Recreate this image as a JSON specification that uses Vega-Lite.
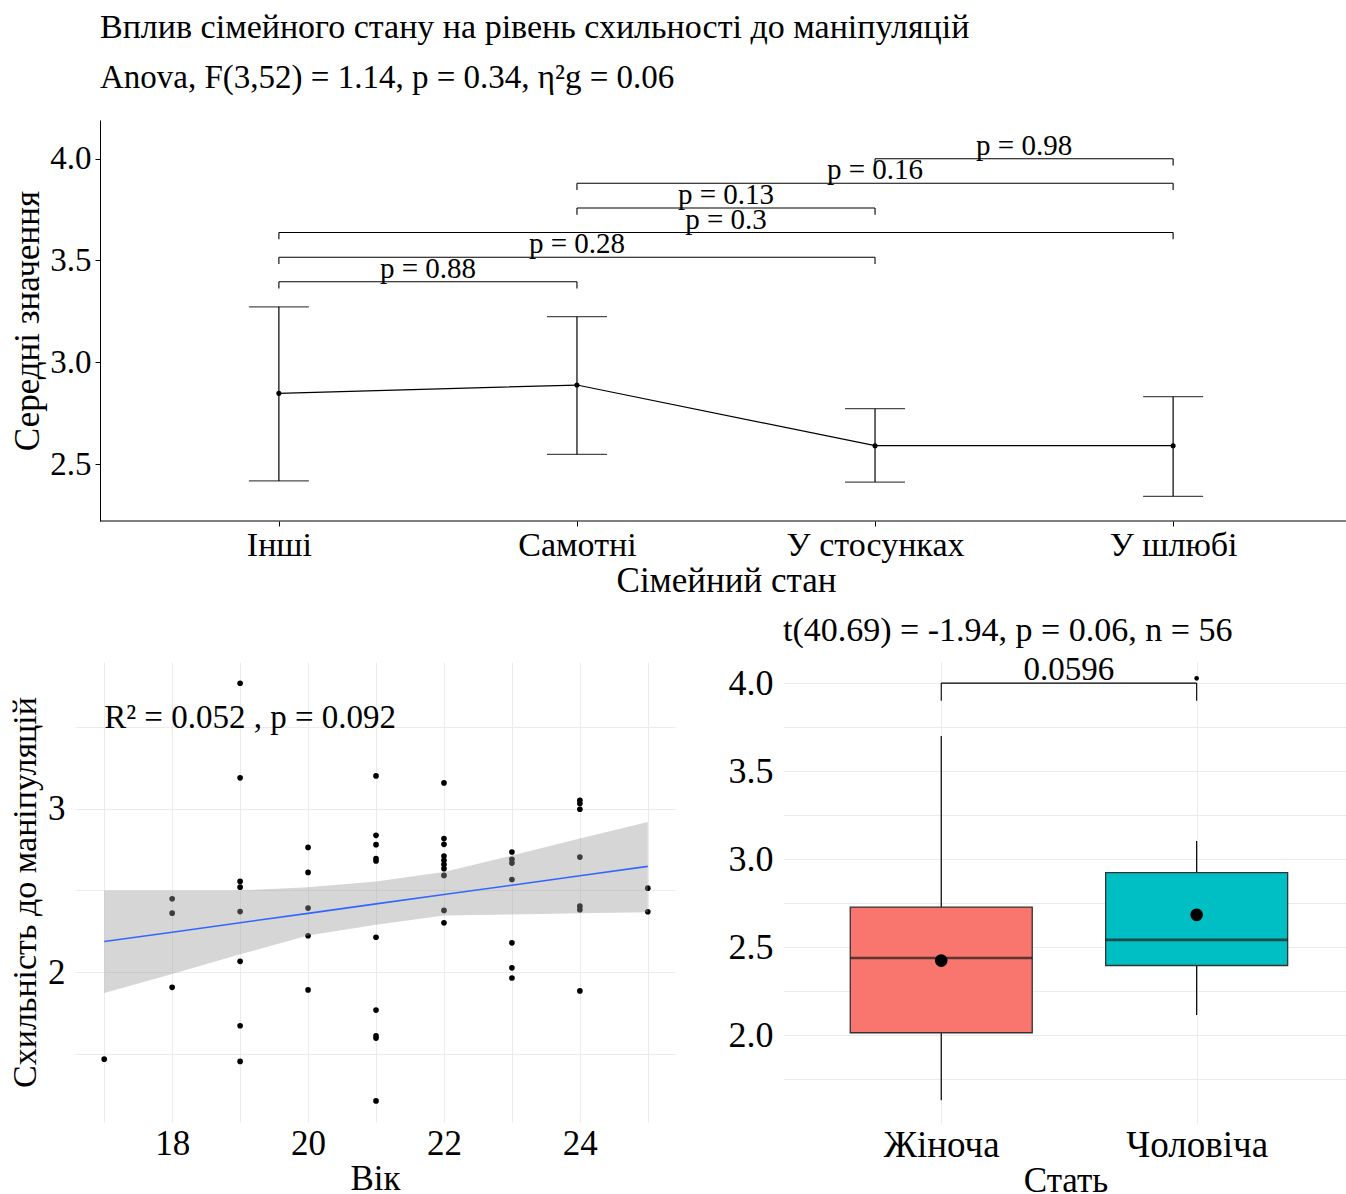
{
  "$schema": "https://vega.github.io/schema/vega-lite/v6.json",
  "background": "white",
  "padding": {"left": 8, "top": 11, "right": 0, "bottom": 0},
  "spacing": 16,
  "config": {
    "font": "Liberation Serif",
    "view": {"stroke": null},
    "axis": {"labelFont": "Liberation Serif", "titleFont": "Liberation Serif", "labelColor": "#000000", "titleColor": "#000000", "titleFontWeight": "normal", "labelFontSize": 34, "titleFontSize": 35},
    "title": {"font": "Liberation Serif", "fontWeight": "normal", "color": "#000000"}
  },
  "vconcat": [
    {
      "width": 1271,
      "height": 401,
      "title": {"text": "Вплив сімейного стану на рівень схильності до маніпуляцій", "subtitle": "Anova, F(3,52) = 1.14, p = 0.34, η²g = 0.06", "anchor": "start", "frame": "group", "dx": 25, "fontSize": 34, "subtitleFontSize": 33, "subtitleFont": "Liberation Serif", "subtitleColor": "#000000", "subtitlePadding": 17, "offset": 25},
      "layer": [
        {
          "data": {"name": "means"},
          "mark": {"type": "rule", "color": "#000000", "strokeWidth": 1.2},
          "encoding": {
            "x": {"field": "i", "type": "quantitative", "scale": {"domain": [0.316, 4.58], "nice": false, "zero": false},
                  "axis": {"values": [1, 2, 3, 4], "labelExpr": "['', 'Інші', 'Самотні', 'У стосунках', 'У шлюбі'][datum.value]", "title": "Сімейний стан", "titleX": 651, "grid": false, "domain": false, "tickColor": "#000000", "tickSize": 5, "labelPadding": 2, "titlePadding": 1, "labelFontSize": 34, "titleFontSize": 35}},
            "y": {"field": "lo", "type": "quantitative", "scale": {"domain": [2.22, 4.19], "nice": false, "zero": false},
                  "axis": {"values": [2.5, 3, 3.5, 4], "format": ".1f", "title": "Середні значення", "offset": -25, "grid": false, "domainColor": "#000000", "tickColor": "#000000", "tickSize": 5, "labelPadding": 4, "titlePadding": 4, "labelFontSize": 33, "titleFontSize": 35}},
            "y2": {"field": "hi"}
          }
        },
        {
          "data": {"values": [{"axisline": "x"}]},
          "mark": {"type": "rule", "color": "#000000", "strokeWidth": 1.2},
          "encoding": {"x": {"datum": 0.4, "type": "quantitative"}, "x2": {"datum": 4.58}, "y": {"datum": 2.22, "type": "quantitative"}}
        },
        {
          "data": {"name": "means"},
          "mark": {"type": "tick", "orient": "horizontal", "size": 60, "thickness": 1.3, "color": "#000000"},
          "encoding": {"x": {"field": "i", "type": "quantitative"}, "y": {"field": "lo", "type": "quantitative"}}
        },
        {
          "data": {"name": "means"},
          "mark": {"type": "tick", "orient": "horizontal", "size": 60, "thickness": 1.3, "color": "#000000"},
          "encoding": {"x": {"field": "i", "type": "quantitative"}, "y": {"field": "hi", "type": "quantitative"}}
        },
        {
          "data": {"name": "means"},
          "mark": {"type": "line", "color": "#000000", "strokeWidth": 1.2},
          "encoding": {"x": {"field": "i", "type": "quantitative"}, "y": {"field": "mean", "type": "quantitative"}}
        },
        {
          "data": {"name": "means"},
          "mark": {"type": "point", "filled": true, "color": "#000000", "size": 26, "opacity": 1},
          "encoding": {"x": {"field": "i", "type": "quantitative"}, "y": {"field": "mean", "type": "quantitative"}}
        },
        {
          "data": {"name": "brackets"},
          "mark": {"type": "rule", "color": "#000000", "strokeWidth": 1.1},
          "encoding": {"x": {"field": "a", "type": "quantitative"}, "x2": {"field": "b"}, "y": {"field": "y", "type": "quantitative"}}
        },
        {
          "data": {"name": "brackets"},
          "transform": [{"fold": ["a", "b"], "as": ["end", "xpos"]}],
          "mark": {"type": "rule", "color": "#000000", "strokeWidth": 1.1},
          "encoding": {"x": {"field": "xpos", "type": "quantitative"}, "y": {"field": "y", "type": "quantitative"}, "y2": {"field": "tip"}}
        },
        {
          "data": {"name": "brackets"},
          "mark": {"type": "text", "fontSize": 29, "baseline": "alphabetic", "align": "center", "dy": -4, "color": "#000000"},
          "encoding": {"x": {"field": "mid", "type": "quantitative"}, "y": {"field": "y", "type": "quantitative"}, "text": {"field": "label"}}
        }
      ]
    },
    {
      "hconcat": [
        {
          "width": 600,
          "height": 460,
          "layer": [
            {
              "data": {"name": "scatter"},
              "mark": {"type": "point", "filled": true, "color": "#000000", "size": 32, "opacity": 1},
              "encoding": {
                "x": {"field": "age", "type": "quantitative", "scale": {"domain": [16.57, 25.4], "nice": false, "zero": false},
                      "axis": {"values": [17, 18, 19, 20, 21, 22, 23, 24, 25], "labelExpr": "datum.value % 2 == 0 ? format(datum.value, 'd') : ''", "title": "Вік", "domain": false, "ticks": false, "gridColor": "#EBEBEB", "gridWidth": 1, "labelPadding": 4, "titlePadding": 0, "labelFontSize": 35, "titleFontSize": 35}},
                "y": {"field": "score", "type": "quantitative", "scale": {"domain": [1.085, 3.896], "nice": false, "zero": false},
                      "axis": {"values": [1.5, 2, 2.5, 3, 3.5], "labelExpr": "datum.value % 1 == 0 ? format(datum.value, 'd') : ''", "title": "Схильність до маніпуляцій", "domain": false, "ticks": false, "gridColor": "#EBEBEB", "gridWidth": 1, "labelPadding": 10, "titlePadding": 5, "labelFontSize": 35, "titleFontSize": 34}}
              }
            },
            {
              "data": {"name": "fit"},
              "mark": {"type": "area", "color": "#999999", "opacity": 0.4},
              "encoding": {"x": {"field": "age", "type": "quantitative"}, "y": {"field": "lo", "type": "quantitative"}, "y2": {"field": "hi"}}
            },
            {
              "data": {"name": "fit"},
              "mark": {"type": "line", "color": "#3366FF", "strokeWidth": 1.6},
              "encoding": {"x": {"field": "age", "type": "quantitative"}, "y": {"field": "fit", "type": "quantitative"}}
            },
            {
              "data": {"values": [{"age": 17, "score": 3.49, "label": "R² = 0.052 , p = 0.092"}]},
              "mark": {"type": "text", "fontSize": 33, "align": "left", "baseline": "alphabetic", "color": "#000000"},
              "encoding": {"x": {"field": "age", "type": "quantitative"}, "y": {"field": "score", "type": "quantitative"}, "text": {"field": "label"}}
            }
          ]
        },
        {
          "width": 565,
          "height": 461,
          "title": {"text": "t(40.69) = -1.94, p = 0.06, n = 56", "anchor": "start", "frame": "group", "fontSize": 34, "offset": 6},
          "layer": [
            {
              "data": {"name": "box"},
              "mark": {"type": "rule", "color": "#000000", "strokeWidth": 1.2},
              "encoding": {
                "x": {"field": "pos", "type": "quantitative", "scale": {"domain": [0.4, 2.573], "nice": false, "zero": false},
                      "axis": {"values": [1, 2], "labelExpr": "['', 'Жіноча', 'Чоловіча'][datum.value]", "title": "Стать", "domain": false, "ticks": false, "gridColor": "#EBEBEB", "labelPadding": 4, "titlePadding": 0, "labelFontSize": 37, "titleFontSize": 35}},
                "y": {"field": "lower", "type": "quantitative", "scale": {"domain": [1.5, 4.12], "nice": false, "zero": false},
                      "axis": {"values": [1.75, 2, 2.25, 2.5, 2.75, 3, 3.25, 3.5, 3.75, 4], "labelExpr": "datum.value * 2 % 1 == 0 ? format(datum.value, '.1f') : ''", "title": null, "domain": false, "ticks": false, "gridColor": "#EBEBEB", "labelPadding": 10, "labelFontSize": 36}},
                "y2": {"field": "upper"}
              }
            },
            {
              "data": {"name": "box"},
              "mark": {"type": "bar", "size": 182, "stroke": "#333333", "strokeWidth": 1.3},
              "encoding": {
                "x": {"field": "pos", "type": "quantitative"},
                "y": {"field": "q1", "type": "quantitative"},
                "y2": {"field": "q3"},
                "color": {"field": "sex", "type": "nominal", "scale": {"domain": ["Жіноча", "Чоловіча"], "range": ["#F8766D", "#00BFC4"]}, "legend": null}
              }
            },
            {
              "data": {"name": "box"},
              "mark": {"type": "tick", "orient": "horizontal", "size": 182, "thickness": 2.6, "color": "#1a1a1a"},
              "encoding": {"x": {"field": "pos", "type": "quantitative"}, "y": {"field": "median", "type": "quantitative"}}
            },
            {
              "data": {"name": "box"},
              "mark": {"type": "point", "filled": true, "color": "#000000", "size": 160, "opacity": 1},
              "encoding": {"x": {"field": "pos", "type": "quantitative"}, "y": {"field": "mean", "type": "quantitative"}}
            },
            {
              "data": {"values": [{"pos": 2, "score": 4.027}]},
              "mark": {"type": "point", "filled": true, "color": "#000000", "size": 22, "opacity": 1},
              "encoding": {"x": {"field": "pos", "type": "quantitative"}, "y": {"field": "score", "type": "quantitative"}}
            },
            {
              "data": {"values": [{"a": 1, "b": 2, "y": 4.0, "tip": 3.9, "mid": 1.5, "label": "0.0596"}]},
              "layer": [
                {"mark": {"type": "rule", "color": "#000000", "strokeWidth": 1.1},
                 "encoding": {"x": {"field": "a", "type": "quantitative"}, "x2": {"field": "b"}, "y": {"field": "y", "type": "quantitative"}}},
                {"transform": [{"fold": ["a", "b"], "as": ["end", "xpos"]}],
                 "mark": {"type": "rule", "color": "#000000", "strokeWidth": 1.1},
                 "encoding": {"x": {"field": "xpos", "type": "quantitative"}, "y": {"field": "y", "type": "quantitative"}, "y2": {"field": "tip"}}},
                {"mark": {"type": "text", "fontSize": 33, "align": "center", "baseline": "alphabetic", "dy": -3, "color": "#000000"},
                 "encoding": {"x": {"field": "mid", "type": "quantitative"}, "y": {"field": "y", "type": "quantitative"}, "text": {"field": "label"}}}
              ]
            }
          ]
        }
      ],
      "spacing": 53
    }
  ],
  "datasets": {
    "means": [
      {"group": "Інші", "i": 1, "mean": 2.847, "lo": 2.417, "hi": 3.272},
      {"group": "Самотні", "i": 2, "mean": 2.888, "lo": 2.547, "hi": 3.224},
      {"group": "У стосунках", "i": 3, "mean": 2.59, "lo": 2.411, "hi": 2.772},
      {"group": "У шлюбі", "i": 4, "mean": 2.59, "lo": 2.341, "hi": 2.831}
    ],
    "brackets": [
      {"a": 1, "b": 2, "y": 3.395, "tip": 3.362, "mid": 1.5, "label": "p = 0.88"},
      {"a": 1, "b": 3, "y": 3.516, "tip": 3.483, "mid": 2, "label": "p = 0.28"},
      {"a": 1, "b": 4, "y": 3.637, "tip": 3.604, "mid": 2.5, "label": "p = 0.3"},
      {"a": 2, "b": 3, "y": 3.758, "tip": 3.725, "mid": 2.5, "label": "p = 0.13"},
      {"a": 2, "b": 4, "y": 3.879, "tip": 3.846, "mid": 3, "label": "p = 0.16"},
      {"a": 3, "b": 4, "y": 4.0, "tip": 3.967, "mid": 3.5, "label": "p = 0.98"}
    ],
    "scatter": [
      {"age": 17, "score": 1.469},
      {"age": 18, "score": 2.449}, {"age": 18, "score": 2.361}, {"age": 18, "score": 1.908},
      {"age": 19, "score": 3.766}, {"age": 19, "score": 3.188}, {"age": 19, "score": 2.555}, {"age": 19, "score": 2.52}, {"age": 19, "score": 2.371}, {"age": 19, "score": 2.067}, {"age": 19, "score": 1.673}, {"age": 19, "score": 1.455},
      {"age": 20, "score": 2.763}, {"age": 20, "score": 2.61}, {"age": 20, "score": 2.392}, {"age": 20, "score": 2.223}, {"age": 20, "score": 1.892},
      {"age": 21, "score": 3.2}, {"age": 21, "score": 2.837}, {"age": 21, "score": 2.78}, {"age": 21, "score": 2.694}, {"age": 21, "score": 2.68}, {"age": 21, "score": 2.214}, {"age": 21, "score": 1.769}, {"age": 21, "score": 1.612}, {"age": 21, "score": 1.598}, {"age": 21, "score": 1.214},
      {"age": 22, "score": 3.157}, {"age": 22, "score": 2.817}, {"age": 22, "score": 2.782}, {"age": 22, "score": 2.71}, {"age": 22, "score": 2.684}, {"age": 22, "score": 2.659}, {"age": 22, "score": 2.633}, {"age": 22, "score": 2.592}, {"age": 22, "score": 2.378}, {"age": 22, "score": 2.302},
      {"age": 23, "score": 2.735}, {"age": 23, "score": 2.69}, {"age": 23, "score": 2.667}, {"age": 23, "score": 2.567}, {"age": 23, "score": 2.18}, {"age": 23, "score": 2.027}, {"age": 23, "score": 1.965},
      {"age": 24, "score": 3.051}, {"age": 24, "score": 3.031}, {"age": 24, "score": 2.996}, {"age": 24, "score": 2.704}, {"age": 24, "score": 2.404}, {"age": 24, "score": 2.382}, {"age": 24, "score": 1.886},
      {"age": 25, "score": 2.514}, {"age": 25, "score": 2.37}
    ],
    "fit": [
      {"age": 17, "fit": 2.188, "lo": 1.874, "hi": 2.5},
      {"age": 18, "fit": 2.245, "lo": 1.99, "hi": 2.5},
      {"age": 19, "fit": 2.303, "lo": 2.11, "hi": 2.5},
      {"age": 20, "fit": 2.36, "lo": 2.224, "hi": 2.52},
      {"age": 21, "fit": 2.418, "lo": 2.29, "hi": 2.555},
      {"age": 22, "fit": 2.475, "lo": 2.347, "hi": 2.612},
      {"age": 23, "fit": 2.532, "lo": 2.353, "hi": 2.714},
      {"age": 24, "fit": 2.59, "lo": 2.361, "hi": 2.817},
      {"age": 25, "fit": 2.647, "lo": 2.367, "hi": 2.918}
    ],
    "box": [
      {"sex": "Жіноча", "pos": 1, "lower": 1.63, "q1": 2.013, "median": 2.438, "q3": 2.727, "upper": 3.7, "mean": 2.423},
      {"sex": "Чоловіча", "pos": 2, "lower": 2.114, "q1": 2.395, "median": 2.541, "q3": 2.923, "upper": 3.102, "mean": 2.683}
    ]
  }
}
